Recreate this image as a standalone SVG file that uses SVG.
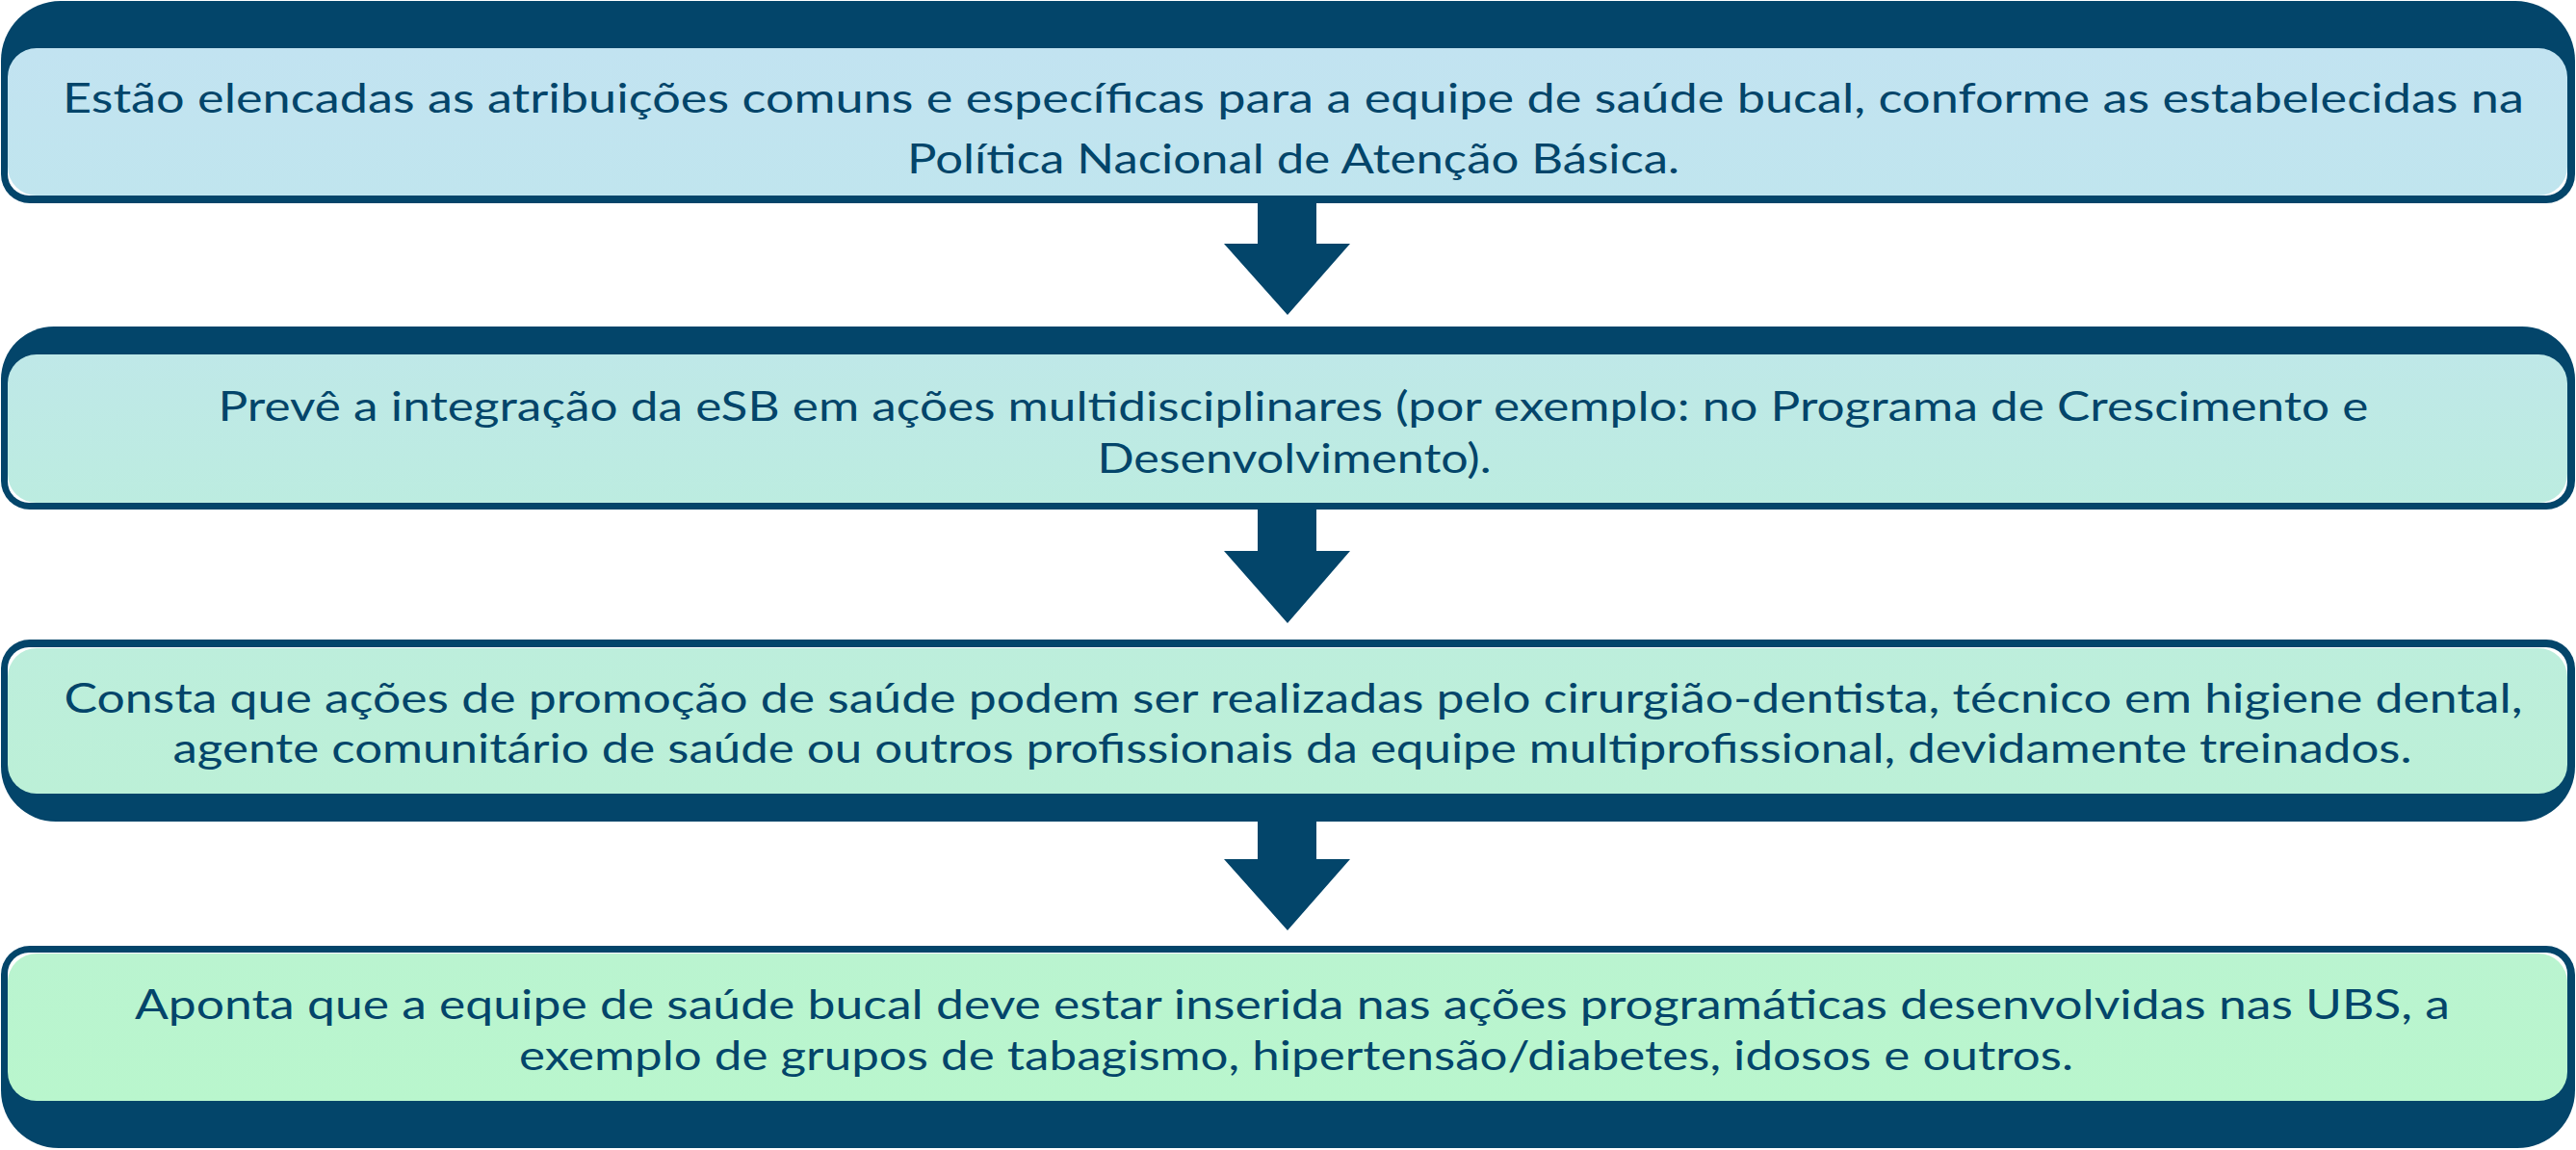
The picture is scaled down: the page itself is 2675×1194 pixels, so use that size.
<svg xmlns="http://www.w3.org/2000/svg" width="2675" height="1194" viewBox="0 0 2675 1194">
<style>
.frame{fill:#03456A}
.gap{fill:#FFFFFF}
.txt{font-family:Lato,"Open Sans","Liberation Sans",sans-serif;font-size:42px;fill:#03456A;text-anchor:middle}
.arrow{fill:#03456A}
</style>
<defs>
<linearGradient id="g1" x1="0" y1="0" x2="0" y2="1"><stop offset="0" stop-color="#C2E3F1"/><stop offset="1" stop-color="#C0E5EE"/></linearGradient>
<linearGradient id="g2" x1="0" y1="0" x2="0" y2="1"><stop offset="0" stop-color="#BFE8E8"/><stop offset="1" stop-color="#BCECE0"/></linearGradient>
<linearGradient id="g3" x1="0" y1="0" x2="0" y2="1"><stop offset="0" stop-color="#BDEEDC"/><stop offset="1" stop-color="#BCF0D7"/></linearGradient>
<linearGradient id="g4" x1="0" y1="0" x2="0" y2="1"><stop offset="0" stop-color="#BAF4D0"/><stop offset="1" stop-color="#B9F6CD"/></linearGradient>
</defs>
<g id="node1">
<path class="frame" d="M63,1 H2612 A62,62 0 0 1 2674,63 V181 A30,30 0 0 1 2644,211 H31 A30,30 0 0 1 1,181 V63 A62,62 0 0 1 63,1 Z"/>
<path class="gap" d="M8,100 H2666 V181 A22,22 0 0 1 2644,203 H30 A22,22 0 0 1 8,181 Z"/>
<rect x="8" y="50" width="2658" height="153" rx="30" fill="url(#g1)"/>
<text class="txt" x="1343" y="117" textLength="2556" lengthAdjust="spacingAndGlyphs">Estão elencadas as atribuições comuns e específicas para a equipe de saúde bucal, conforme as estabelecidas na</text>
<text class="txt" x="1343" y="180" textLength="802" lengthAdjust="spacingAndGlyphs">Política Nacional de Atenção Básica.</text>
</g>
<g id="node2">
<path class="frame" d="M56,339 H2619 A55,55 0 0 1 2674,394 V499 A30,30 0 0 1 2644,529 H31 A30,30 0 0 1 1,499 V394 A55,55 0 0 1 56,339 Z"/>
<path class="gap" d="M8,430 H2666 V500 A22,22 0 0 1 2644,522 H30 A22,22 0 0 1 8,500 Z"/>
<rect x="8" y="368" width="2658" height="154" rx="30" fill="url(#g2)"/>
<text class="txt" x="1343" y="437" textLength="2233" lengthAdjust="spacingAndGlyphs">Prevê a integração da eSB em ações multidisciplinares (por exemplo: no Programa de Crescimento e</text>
<text class="txt" x="1344" y="491" textLength="409" lengthAdjust="spacingAndGlyphs">Desenvolvimento).</text>
</g>
<g id="node3">
<path class="frame" d="M31,664 H2644 A30,30 0 0 1 2674,694 V796 A57,57 0 0 1 2617,853 H58 A57,57 0 0 1 1,796 V694 A30,30 0 0 1 31,664 Z"/>
<path class="gap" d="M8,760 V694 A22,22 0 0 1 30,672 H2644 A22,22 0 0 1 2666,694 V760 Z"/>
<rect x="8" y="673" width="2658" height="151" rx="30" fill="url(#g3)"/>
<text class="txt" x="1343" y="740" textLength="2553" lengthAdjust="spacingAndGlyphs">Consta que ações de promoção de saúde podem ser realizadas pelo cirurgião-dentista, técnico em higiene dental,</text>
<text class="txt" x="1342" y="792" textLength="2325" lengthAdjust="spacingAndGlyphs">agente comunitário de saúde ou outros profissionais da equipe multiprofissional, devidamente treinados.</text>
</g>
<g id="node4">
<path class="frame" d="M31,982 H2644 A30,30 0 0 1 2674,1012 V1132 A60,60 0 0 1 2614,1192 H61 A60,60 0 0 1 1,1132 V1012 A30,30 0 0 1 31,982 Z"/>
<path class="gap" d="M8,1080 V1011 A22,22 0 0 1 30,989 H2644 A22,22 0 0 1 2666,1011 V1080 Z"/>
<rect x="8" y="990" width="2658" height="153" rx="30" fill="url(#g4)"/>
<text class="txt" x="1342" y="1058" textLength="2404" lengthAdjust="spacingAndGlyphs">Aponta que a equipe de saúde bucal deve estar inserida nas ações programáticas desenvolvidas nas UBS, a</text>
<text class="txt" x="1346" y="1111" textLength="1614" lengthAdjust="spacingAndGlyphs">exemplo de grupos de tabagismo, hipertensão/diabetes, idosos e outros.</text>
</g>
<g id="connectors">
<path class="arrow" d="M1306,211 H1367 V253 H1402 L1337,327 L1271,253 H1306 Z"/>
<path class="arrow" d="M1306,529 H1367 V572 H1402 L1337,647 L1271,572 H1306 Z"/>
<path class="arrow" d="M1306,853 H1367 V892 H1402 L1337,966 L1271,892 H1306 Z"/>
</g>
</svg>
